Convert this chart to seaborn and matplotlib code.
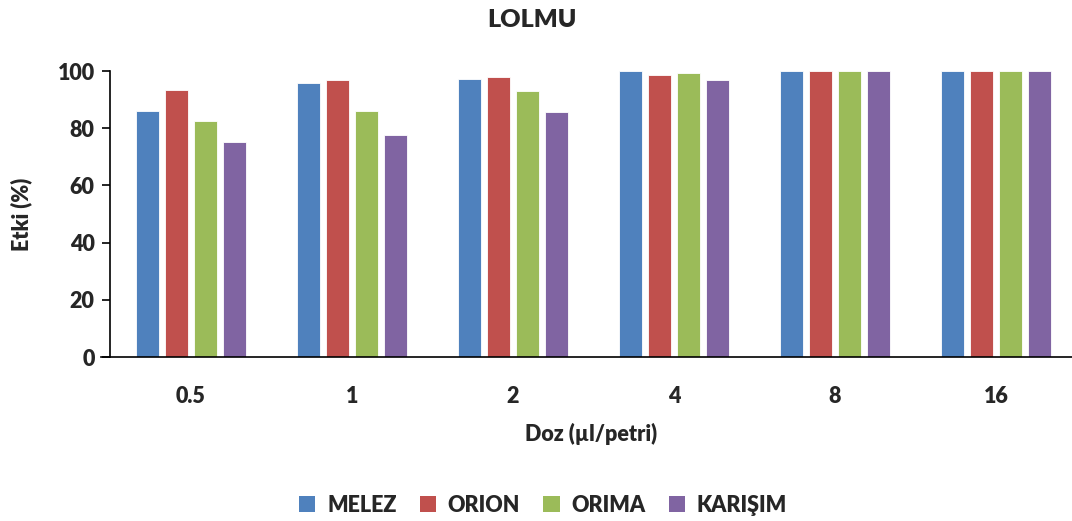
import matplotlib
matplotlib.use("Agg")
import matplotlib.pyplot as plt
import seaborn as sns
import pandas as pd
from matplotlib.patches import Patch

doses = ["0.5", "1", "2", "4", "8", "16"]
series = ["MELEZ", "ORION", "ORIMA", "KARIŞIM"]
melez = [86.0, 95.9, 97.2, 100, 100, 100]
orion = [93.5, 96.7, 98.0, 98.7, 100, 100]
orima = [82.5, 86.0, 93.0, 99.2, 100, 100]
karisim = [75.2, 77.5, 85.8, 96.7, 100, 100]
colors = ["#4F81BD", "#C0504D", "#9BBB59", "#8064A2"]
yticks = [0, 20, 40, 60, 80, 100]

rows = []
for name, vals in zip(series, [melez, orion, orima, karisim]):
    for d, v in zip(doses, vals):
        rows.append({"Doz": d, "Seri": name, "Etki": v})
df = pd.DataFrame(rows)

sns.set_theme(style="white")
plt.rcParams["font.family"] = ["Lato", "DejaVu Sans"]
W = "heavy"
FS = 15.5

fig = plt.figure(figsize=(10.72, 5.21), dpi=100)
ax = fig.add_axes([110/1072, 1-357/521, 1-110/1072, (357-71)/521])

sns.barplot(data=df, x="Doz", y="Etki", hue="Seri", order=doses, hue_order=series,
            palette=colors, width=0.72, gap=0.21, saturation=1, ax=ax, legend=False,
            edgecolor="white", linewidth=0.6)

ax.set_xlim(-0.503, 5.472)
ax.set_ylim(0, 100)
ax.set_yticks(yticks)
ax.set_yticklabels([str(t) for t in yticks], fontsize=FS, fontweight=W)
ax.set_xticklabels(doses, fontsize=FS, fontweight=W)
ax.tick_params(axis="y", which="major", direction="out", length=6, width=1.2, color="black", left=True, pad=5)
ax.tick_params(axis="x", length=0, pad=21)
for s in ["top", "right"]:
    ax.spines[s].set_visible(False)
for s in ["left", "bottom"]:
    ax.spines[s].set_color("black")
    ax.spines[s].set_linewidth(1.2)
ax.spines["bottom"].set_bounds(-0.558, 5.472)
ax.spines["bottom"].set_clip_on(False)

ax.set_xlabel("Doz (µl/petri)", fontsize=FS, fontweight=W, labelpad=11)
ax.set_ylabel("Etki (%)", fontsize=FS, fontweight=W, labelpad=18)
fig.text(532/1072, 1-20/521, "LOLMU", ha="center", va="center", fontsize=18, fontweight=W)

handles = [Patch(facecolor=c, edgecolor="none") for c in colors]
leg = fig.legend(handles, series, loc="center", bbox_to_anchor=(543/1072, 1-505/521), ncol=4,
                 frameon=False, handlelength=0.75, handleheight=0.75, handletextpad=0.55,
                 columnspacing=1.08, prop={"size": FS, "weight": W})

fig.savefig("out.png", dpi=100)
